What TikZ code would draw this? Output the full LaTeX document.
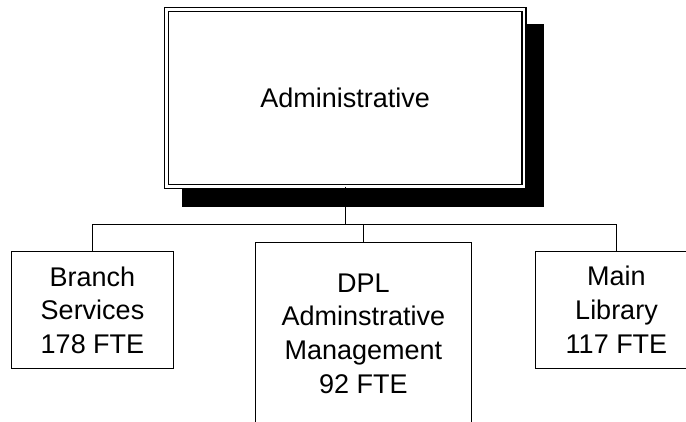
\documentclass[tikz,border=0pt]{standalone}
\usepackage{fontspec}
\setmainfont{Liberation Sans}
\begin{document}
\begin{tikzpicture}[x=1pt,y=-1pt,
  orgfont/.style={font=\fontsize{27pt}{33.8pt}\selectfont},
  headbox/.style={draw=black, line width=1.2pt, double=white, double distance=2.8pt,
    fill=white, inner sep=0pt, outer sep=0pt, orgfont},
  unitbox/.style={draw=black, line width=1pt, fill=white, inner sep=0pt, outer sep=0pt,
    align=center, orgfont},
  link/.style={draw=black, line width=1pt}]
  \useasboundingbox (0,0) rectangle (686,422);
  \clip (0,0) rectangle (686,422);

  % drop shadow behind the head box
  \fill[black] (182.3,24) rectangle (544,206.7);

  % head box
  \node[headbox, minimum width=357.4pt, minimum height=177.3pt] (admin) at (345.2,98.25) {Administrative};

  % units
  \node[unitbox, minimum width=161.6pt, minimum height=117.3pt] (branch) at (92.5,310.3)
    {Branch\\Services\\178 FTE};
  \node[unitbox, minimum width=216.7pt, minimum height=182pt] (dpl) at (363.4,333.7)
    {DPL\\Adminstrative\\Management\\92 FTE};
  \node[unitbox, minimum width=161.6pt, minimum height=117.3pt] (library) at (616.5,309.7)
    {Main\\Library\\117 FTE};

  % connectors
  \coordinate (bus) at (345.2,224.5);
  \draw[link] (admin.south) -- (bus);
  \draw[link] (branch.north) -- (branch.north |- bus) -- (library.north |- bus) -- (library.north);
  \draw[link] (dpl.north) -- (dpl.north |- bus);
\end{tikzpicture}
\end{document}
